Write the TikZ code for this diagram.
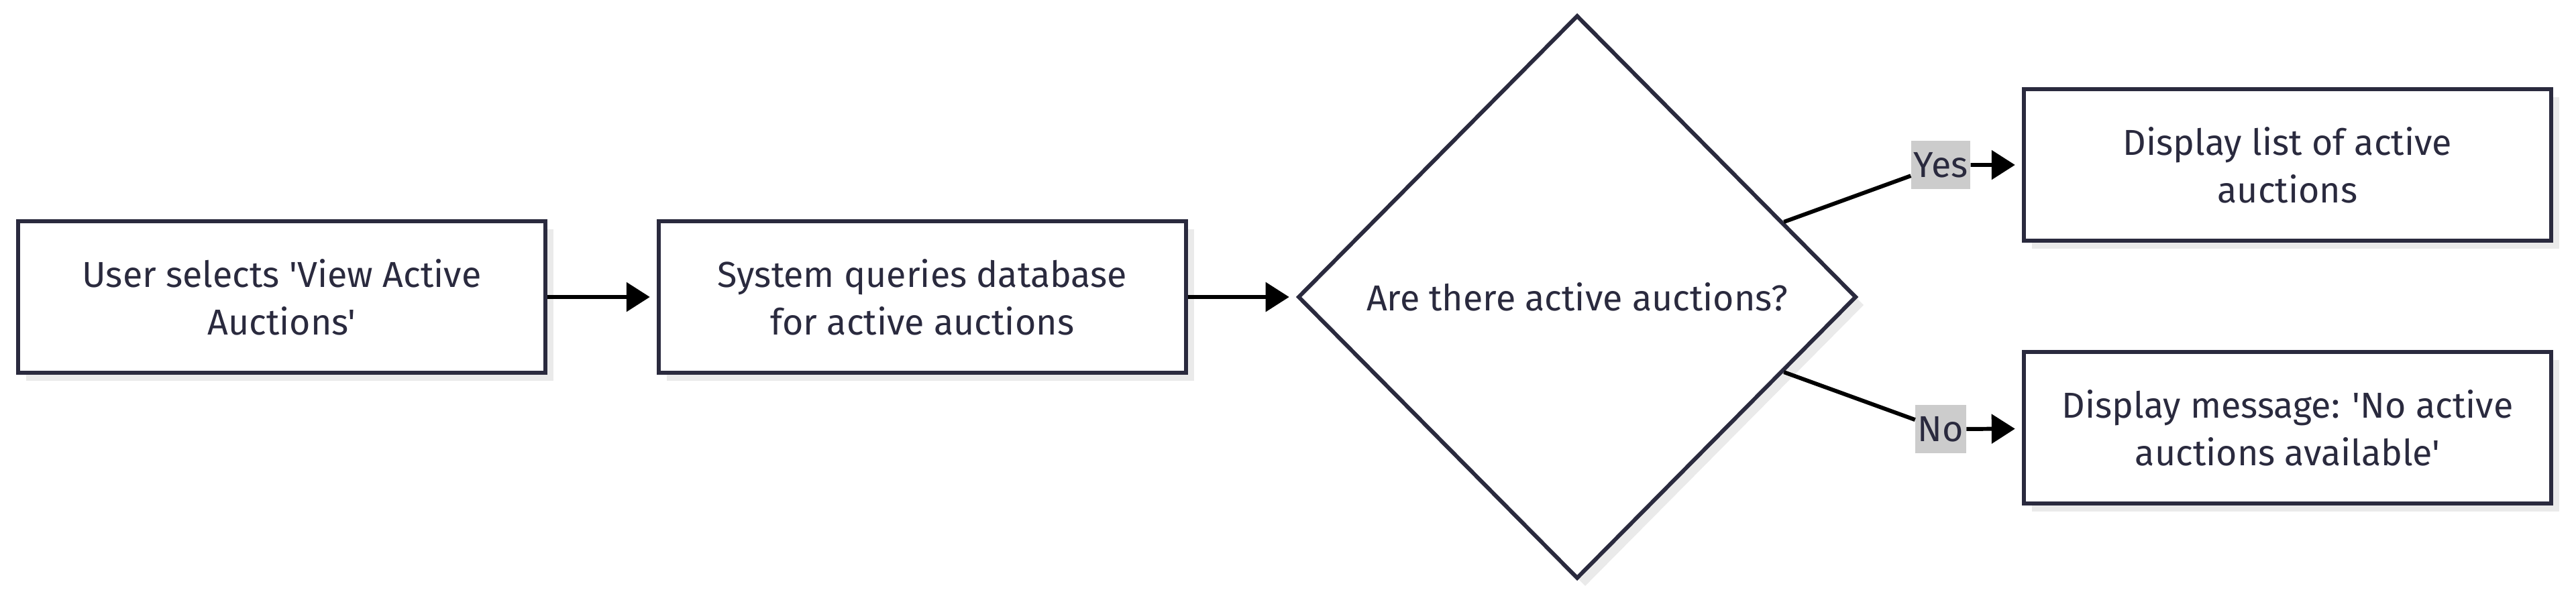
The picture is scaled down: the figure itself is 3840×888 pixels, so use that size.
\documentclass[tikz,border=0pt]{standalone}
\usepackage{fontspec}
\setmainfont{Fira Sans}[Ligatures=TeXOff]
\usepackage{tikz}
\usetikzlibrary{arrows.meta,shapes.geometric,shadows}
\definecolor{ink}{HTML}{2A2A3E}
\definecolor{shade}{HTML}{EAEAEA}
\definecolor{tag}{HTML}{CCCCCC}

\begin{document}
\begin{tikzpicture}[
  x=0.01cm,y=-0.01cm,
  b/.style={draw=ink,fill=white,line width=1.7pt,align=center,text=ink,
            font=\fontsize{15.3}{20.2}\selectfont,minimum width=7.86cm,minimum height=2.25cm,
            drop shadow={shadow xshift=0.12cm,shadow yshift=-0.12cm,fill=shade,opacity=1}},
  d/.style={b,diamond,minimum width=8.32cm,minimum height=8.4cm,inner sep=0pt},
  a/.style={-{Triangle[length=0.35cm,width=0.43cm]},draw=black,line width=1.7pt,shorten >=0.1cm},
  n/.style={fill=tag,text=ink,font=\fontsize{15.3}{16}\selectfont,inner sep=1pt,minimum height=0.71cm}]
\useasboundingbox (0,0) rectangle (3840,888);
\node[b] (sel) at (420,443)  {User selects 'View Active\\ Auctions'};
\node[b] (qry) at (1375,443) {System queries database\\ for active auctions};
\node[d] (dec) at (2351,443) {Are there active auctions?};
\node[b] (lst) at (3410,246) {Display list of active\\ auctions};
\node[b] (msg) at (3410,638) {Display message: 'No active\\ auctions available'};
\node[n] (yes) at (2893,246) {Yes};
\node[n] (no)  at (2893,640) {No};
\draw[a] (sel)--(qry); \draw[a] (qry)--(dec);
\draw[a] (dec)--(yes)--(lst);
\draw[a] (dec)--(no)--(msg);
\end{tikzpicture}
\end{document}
